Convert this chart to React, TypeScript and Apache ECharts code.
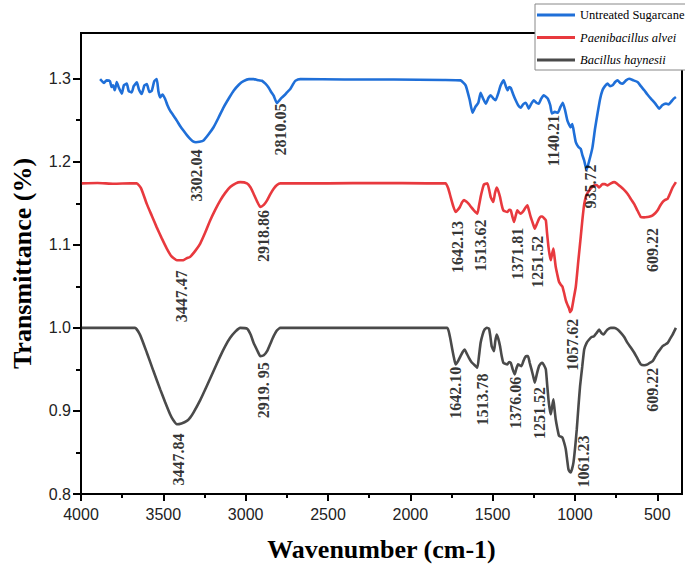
import React, { useEffect, useRef } from "react";
import * as echarts from "echarts";

const seriesNames = ["Untreated Sugarcane", "Paenibacillus alvei", "Bacillus haynesii"];
const seriesColors = ["#1f6fd8", "#e8393e", "#4a4a4a"];

// [wavenumber (cm-1), transmittance]
const blueSpectrum = [
  [3884, 1.2995], [3860, 1.295], [3845, 1.298], [3824, 1.297], [3815, 1.29], [3805, 1.292],
  [3795, 1.286], [3783, 1.296], [3770, 1.289], [3752, 1.282], [3740, 1.292], [3722, 1.294],
  [3710, 1.285], [3692, 1.2835], [3680, 1.291], [3661, 1.2955], [3648, 1.287], [3631, 1.2815],
  [3615, 1.292], [3600, 1.2935], [3585, 1.284], [3570, 1.2855], [3555, 1.297], [3540, 1.2995],
  [3530, 1.285], [3519, 1.2775], [3505, 1.281], [3489, 1.2755], [3475, 1.268], [3459, 1.2615],
  [3440, 1.256], [3418, 1.2495], [3398, 1.243], [3378, 1.2375], [3357, 1.232], [3337, 1.2275],
  [3320, 1.2245], [3302, 1.2235], [3280, 1.224], [3256, 1.2255], [3225, 1.233], [3195, 1.2415],
  [3165, 1.253], [3134, 1.2655], [3100, 1.277], [3073, 1.2855], [3040, 1.293], [3013, 1.297],
  [2980, 1.2995], [2952, 1.2995], [2920, 1.298], [2901, 1.2975], [2880, 1.294], [2861, 1.2895],
  [2845, 1.284], [2830, 1.2795], [2810, 1.2705], [2795, 1.274], [2779, 1.2775], [2760, 1.281],
  [2749, 1.2835], [2729, 1.2875], [2710, 1.294], [2698, 1.2975], [2668, 1.2995], [2400, 1.299],
  [2100, 1.299], [1800, 1.2985], [1695, 1.298], [1664, 1.292], [1640, 1.275], [1622, 1.259],
  [1605, 1.266], [1587, 1.271], [1573, 1.283], [1558, 1.276], [1542, 1.27], [1525, 1.277],
  [1512, 1.28], [1495, 1.276], [1482, 1.274], [1465, 1.283], [1451, 1.292], [1433, 1.298],
  [1420, 1.291], [1409, 1.286], [1400, 1.29], [1390, 1.289], [1375, 1.281], [1360, 1.274],
  [1345, 1.268], [1330, 1.265], [1315, 1.269], [1299, 1.271], [1290, 1.268], [1281, 1.264],
  [1265, 1.27], [1250, 1.274], [1235, 1.271], [1220, 1.27], [1205, 1.276], [1190, 1.28],
  [1175, 1.278], [1165, 1.276], [1150, 1.268], [1140, 1.258], [1122, 1.26], [1104, 1.259],
  [1088, 1.266], [1074, 1.271], [1060, 1.262], [1046, 1.2495], [1026, 1.2415], [1016, 1.2455],
  [1005, 1.234], [995, 1.2235], [980, 1.218], [965, 1.2155], [955, 1.208], [944, 1.2015],
  [930, 1.19], [915, 1.2], [894, 1.217], [878, 1.24], [863, 1.258], [848, 1.275], [833, 1.286],
  [818, 1.291], [802, 1.294], [787, 1.291], [772, 1.292], [756, 1.296], [741, 1.298],
  [726, 1.295], [711, 1.294], [690, 1.298], [671, 1.3], [645, 1.298], [620, 1.296], [600, 1.291],
  [579, 1.286], [560, 1.281], [539, 1.276], [512, 1.27], [488, 1.264], [470, 1.268], [447, 1.27],
  [432, 1.269], [417, 1.272], [400, 1.276], [387, 1.278],
];

const redSpectrum = [
  [3995, 1.174], [3900, 1.1745], [3800, 1.1735], [3700, 1.174], [3661, 1.174], [3635, 1.168],
  [3600, 1.149], [3570, 1.135], [3540, 1.121], [3510, 1.108], [3479, 1.0955], [3450, 1.086],
  [3418, 1.0815], [3398, 1.0815], [3378, 1.0815], [3357, 1.084], [3337, 1.0855], [3305, 1.093],
  [3276, 1.1015], [3245, 1.115], [3215, 1.1295], [3185, 1.142], [3154, 1.1535], [3124, 1.1625],
  [3094, 1.1695], [3060, 1.174], [3033, 1.1755], [2992, 1.174], [2970, 1.169], [2952, 1.1615],
  [2930, 1.152], [2911, 1.1455], [2890, 1.148], [2870, 1.1535], [2850, 1.161], [2830, 1.1675],
  [2810, 1.172], [2789, 1.174], [2500, 1.174], [2200, 1.1745], [1900, 1.174], [1786, 1.174],
  [1770, 1.168], [1755, 1.1575], [1740, 1.147], [1725, 1.1395], [1712, 1.142], [1699, 1.1455],
  [1686, 1.151], [1674, 1.154], [1660, 1.152], [1644, 1.149], [1629, 1.145], [1614, 1.1415],
  [1593, 1.1375], [1583, 1.147], [1573, 1.1575], [1563, 1.166], [1553, 1.1725], [1532, 1.174],
  [1520, 1.165], [1512, 1.1575], [1496, 1.1515], [1486, 1.162], [1476, 1.169], [1466, 1.165],
  [1455, 1.1575], [1445, 1.148], [1435, 1.1415], [1411, 1.1395], [1400, 1.142], [1390, 1.1415],
  [1380, 1.134], [1370, 1.1275], [1360, 1.135], [1350, 1.1415], [1340, 1.139], [1330, 1.1375],
  [1320, 1.139], [1310, 1.1415], [1300, 1.145], [1289, 1.1475], [1279, 1.141], [1269, 1.1335],
  [1256, 1.126], [1244, 1.1195], [1230, 1.126], [1218, 1.1315], [1208, 1.134], [1198, 1.134],
  [1188, 1.132], [1177, 1.1295], [1170, 1.115], [1161, 1.0975], [1154, 1.088], [1147, 1.0815],
  [1139, 1.089], [1131, 1.0955], [1124, 1.085], [1117, 1.0735], [1107, 1.064], [1097, 1.0555],
  [1086, 1.052], [1076, 1.0495], [1066, 1.042], [1056, 1.0335], [1046, 1.028], [1036, 1.0235],
  [1030, 1.019], [1020, 1.022], [1008, 1.035], [995, 1.0495], [980, 1.08], [965, 1.1095],
  [955, 1.13], [944, 1.149], [930, 1.16], [914, 1.1655], [899, 1.169], [884, 1.1715],
  [868, 1.172], [853, 1.169], [843, 1.171], [833, 1.173], [818, 1.173], [802, 1.1715],
  [782, 1.174], [762, 1.1755], [747, 1.174], [732, 1.1715], [706, 1.167], [681, 1.1615],
  [660, 1.155], [640, 1.149], [620, 1.141], [600, 1.1335], [580, 1.133], [559, 1.1335],
  [545, 1.134], [528, 1.1355], [513, 1.138], [498, 1.1415], [483, 1.147], [468, 1.1515],
  [452, 1.154], [437, 1.1555], [422, 1.162], [407, 1.169], [387, 1.1755],
];

const graySpectrum = [
  [3995, 1.0], [3800, 1.0], [3672, 1.0], [3640, 0.991], [3600, 0.97], [3560, 0.948],
  [3519, 0.926], [3490, 0.911], [3459, 0.896], [3440, 0.889], [3418, 0.884], [3390, 0.885],
  [3357, 0.888], [3337, 0.892], [3317, 0.898], [3276, 0.913], [3236, 0.93], [3195, 0.948],
  [3154, 0.966], [3124, 0.978], [3094, 0.988], [3060, 0.996], [3033, 1.0], [2992, 0.999],
  [2970, 0.992], [2952, 0.982], [2930, 0.973], [2911, 0.966], [2890, 0.967], [2870, 0.972],
  [2850, 0.981], [2830, 0.99], [2810, 0.997], [2789, 1.0], [2400, 1.0], [2000, 1.0],
  [1776, 1.0], [1760, 0.99], [1745, 0.974], [1735, 0.964], [1725, 0.956], [1710, 0.96],
  [1695, 0.966], [1682, 0.971], [1670, 0.974], [1657, 0.969], [1644, 0.964], [1629, 0.959],
  [1614, 0.956], [1593, 0.952], [1583, 0.966], [1573, 0.982], [1561, 0.992], [1549, 0.998],
  [1535, 1.0], [1522, 0.999], [1514, 0.99], [1506, 0.978], [1492, 0.972], [1484, 0.984],
  [1476, 0.992], [1466, 0.987], [1455, 0.978], [1445, 0.966], [1435, 0.958], [1411, 0.956],
  [1400, 0.959], [1390, 0.958], [1378, 0.95], [1366, 0.944], [1356, 0.951], [1346, 0.956],
  [1336, 0.955], [1325, 0.954], [1315, 0.959], [1305, 0.964], [1295, 0.966], [1285, 0.966],
  [1275, 0.958], [1264, 0.95], [1254, 0.942], [1244, 0.934], [1231, 0.945], [1218, 0.954],
  [1208, 0.957], [1198, 0.958], [1188, 0.955], [1177, 0.95], [1169, 0.932], [1161, 0.914],
  [1154, 0.903], [1147, 0.896], [1139, 0.905], [1131, 0.914], [1124, 0.902], [1117, 0.89],
  [1107, 0.879], [1097, 0.87], [1086, 0.869], [1076, 0.868], [1066, 0.862], [1056, 0.854],
  [1048, 0.842], [1040, 0.83], [1033, 0.827], [1026, 0.826], [1018, 0.83], [1009, 0.838],
  [999, 0.856], [989, 0.878], [979, 0.905], [969, 0.93], [956, 0.953], [944, 0.974],
  [929, 0.982], [914, 0.986], [899, 0.989], [884, 0.99], [868, 0.994], [853, 0.998],
  [840, 0.994], [827, 0.992], [815, 0.995], [802, 0.998], [782, 1.0], [762, 1.0],
  [741, 0.998], [721, 0.994], [701, 0.989], [681, 0.982], [660, 0.976], [640, 0.97],
  [620, 0.963], [600, 0.956], [580, 0.955], [559, 0.956], [545, 0.958], [528, 0.96],
  [513, 0.965], [498, 0.97], [483, 0.974], [468, 0.978], [452, 0.98], [437, 0.982],
  [422, 0.987], [407, 0.992], [387, 1.0],
];

// Peak annotations: text, and anchor (wavenumber, transmittance) of the text centre
const annoText = [
  "3302.04", "2810.05", "1140.21", "935.72",
  "3447.47", "2918.86", "1642.13", "1513.62", "1371.81", "1251.52", "1057.62", "609.22",
  "3447.84", "2919. 95", "1642.10", "1513.78", "1376.06", "1251.52", "1061.23", "609.22",
];
const annoWave = [
  3296, 2789, 1129, 904,
  3387, 2893, 1713, 1573, 1348, 1226, 1013, 527,
  3410, 2893, 1725, 1561, 1360, 1214, 946, 527,
];
const annoT = [
  1.1834, 1.2387, 1.2255, 1.1702,
  1.038, 1.1107, 1.0975, 1.0993, 1.0891, 1.0795, 0.9797, 1.0939,
  0.8415, 0.925, 0.922, 0.9137, 0.91, 0.8974, 0.8391, 0.9255,
];

const xMajorTicks = [500, 1000, 1500, 2000, 2500, 3000, 3500, 4000];
const xMinorTicks = [750, 1250, 1750, 2250, 2750, 3250, 3750];
const yMajorTicks = [0.8, 0.9, 1.0, 1.1, 1.2, 1.3];
const yMinorTicks = [0.85, 0.95, 1.05, 1.15, 1.25];

export default function App() {
  const ref = useRef<HTMLDivElement>(null);
  useEffect(() => {
    document.body.style.margin = "0";
    const chart = echarts.init(ref.current!, undefined, { renderer: "svg" });
    const serif = "'Liberation Serif', 'Times New Roman', serif";
    const sans = "'Liberation Sans', Arial, sans-serif";
    const spectra = [blueSpectrum, redSpectrum, graySpectrum];
    const xRange = { min: 350, max: 4000 };
    const yRange = { min: 0.8, max: 1.355 };

    const option: any = {
      animation: false,
      backgroundColor: "#fff",
      grid: {
        left: 81, right: 3, top: 33, bottom: 76,
        show: true, borderColor: "#000", borderWidth: 2,
        containLabel: false, outerBoundsMode: "none",
      },
      legend: {
        data: seriesNames,
        orient: "vertical",
        left: 535,
        top: 4,
        padding: [4, 2, 3, 2],
        itemGap: 8.5,
        itemWidth: 38,
        itemHeight: 3,
        icon: "rect",
        backgroundColor: "#fff",
        borderColor: "#888",
        borderWidth: 1,
        formatter: (name: string) => (name === seriesNames[0] ? name : `{it|${name}}`),
        textStyle: {
          fontFamily: serif, fontSize: 12.5, color: "#000", lineHeight: 14,
          rich: { it: { fontFamily: serif, fontSize: 12.5, fontStyle: "italic", color: "#000", lineHeight: 14 } },
        },
      },
      xAxis: [
        {
          type: "value", inverse: true, ...xRange,
          name: "Wavenumber (cm-1)", nameLocation: "middle", nameGap: 42,
          nameTextStyle: { fontFamily: serif, fontSize: 26, fontWeight: "bold", color: "#000" },
          axisLine: { show: true, onZero: false, lineStyle: { color: "#000", width: 2 } },
          axisTick: { show: true, customValues: xMajorTicks, length: 7, lineStyle: { color: "#000", width: 2 } },
          axisLabel: {
            customValues: xMajorTicks, margin: 12, fontFamily: sans, fontSize: 16, color: "#222",
            formatter: (v: number) => String(v),
          },
          splitLine: { show: false },
        },
        {
          type: "value", inverse: true, ...xRange, position: "bottom",
          axisLine: { show: false },
          axisTick: { show: true, customValues: xMinorTicks, length: 4, lineStyle: { color: "#000", width: 2 } },
          axisLabel: { show: false },
          splitLine: { show: false },
        },
      ],
      yAxis: [
        {
          type: "value", ...yRange, position: "left",
          name: "Transmittance (%)", nameLocation: "middle", nameGap: 46,
          nameTextStyle: { fontFamily: serif, fontSize: 26, fontWeight: "bold", color: "#000" },
          axisLine: { show: true, onZero: false, lineStyle: { color: "#000", width: 2 } },
          axisTick: { show: true, customValues: yMajorTicks, length: 8, lineStyle: { color: "#000", width: 2 } },
          axisLabel: {
            customValues: yMajorTicks, margin: 10, fontFamily: sans, fontSize: 16, color: "#222",
            formatter: (v: number) => v.toFixed(1),
          },
          splitLine: { show: false },
        },
        {
          type: "value", ...yRange, position: "left", offset: 0,
          axisLine: { show: false },
          axisTick: { show: true, customValues: yMinorTicks, length: 5, lineStyle: { color: "#000", width: 2 } },
          axisLabel: { show: false },
          splitLine: { show: false },
        },
      ],
      series: [
        ...seriesNames.map((name, i) => ({
          name,
          type: "line",
          xAxisIndex: 0,
          yAxisIndex: 0,
          data: spectra[i],
          showSymbol: false,
          symbol: "none",
          smooth: 0.15,
          silent: true,
          color: seriesColors[i],
          lineStyle: { color: seriesColors[i], width: 2.6 },
          z: 3 + i,
        })),
        {
          name: "annotations",
          type: "scatter",
          xAxisIndex: 0,
          yAxisIndex: 0,
          silent: true,
          symbolSize: 1,
          itemStyle: { color: "rgba(0,0,0,0)" },
          data: annoText.map((t, i) => ({ name: t, value: [annoWave[i], annoT[i]] })),
          label: {
            show: true, formatter: "{b}", rotate: 90, position: "inside",
            fontFamily: serif, fontWeight: "bold", fontSize: 16, color: "#000",
          },
          z: 10,
        },
      ],
    };
    chart.setOption(option);
    return () => chart.dispose();
  }, []);
  return <div ref={ref} style={{ width: 685, height: 570 }} />;
}
